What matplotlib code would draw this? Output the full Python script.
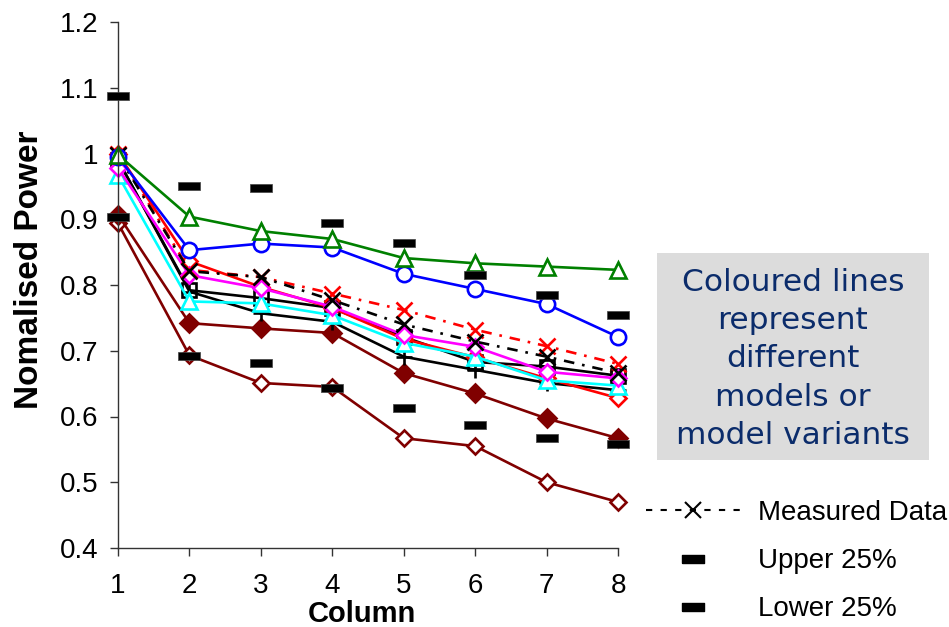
import matplotlib
matplotlib.use("Agg")
import matplotlib.pyplot as plt
from matplotlib.patches import Rectangle
from matplotlib.lines import Line2D

columns = [1, 2, 3, 4, 5, 6, 7, 8]
green_tri = [0.998, 0.904, 0.882, 0.870, 0.841, 0.833, 0.828, 0.823]
blue_circle = [0.995, 0.853, 0.863, 0.857, 0.817, 0.794, 0.771, 0.721]
red_dashed_x = [1.0, 0.823, 0.812, 0.787, 0.762, 0.732, 0.707, 0.680]
measured = [0.997, 0.821, 0.812, 0.777, 0.740, 0.714, 0.691, 0.666]
red_solid = [1.0, 0.836, 0.797, 0.765, 0.718, 0.690, 0.658, 0.628]
magenta = [0.978, 0.815, 0.795, 0.767, 0.724, 0.706, 0.668, 0.658]
black_square = [0.99, 0.792, 0.780, 0.765, 0.721, 0.683, 0.676, 0.662]
black_plus = [0.99, 0.790, 0.757, 0.744, 0.691, 0.671, 0.651, 0.640]
cyan_tri = [0.967, 0.775, 0.772, 0.754, 0.712, 0.691, 0.655, 0.647]
darkred_filled = [0.907, 0.742, 0.734, 0.727, 0.666, 0.635, 0.597, 0.567]
darkred_open = [0.894, 0.693, 0.651, 0.645, 0.567, 0.555, 0.500, 0.470]
upper25 = [1.088, 0.951, 0.947, 0.895, 0.864, 0.815, 0.785, 0.754]
lower25 = [0.904, 0.692, 0.681, 0.644, 0.613, 0.587, 0.568, 0.558]
yticks = [0.4, 0.5, 0.6, 0.7, 0.8, 0.9, 1.0, 1.1, 1.2]
ytick_labels = ["0.4", "0.5", "0.6", "0.7", "0.8", "0.9", "1", "1.1", "1.2"]

fig = plt.figure(figsize=(9.49, 6.27), dpi=100)
ax = fig.add_axes([118/949, 1-548/627, 500/949, 526/627])

lw = 1.9
mew = 1.9
common = dict(clip_on=False, linewidth=lw, markeredgewidth=mew)

ax.plot(columns, darkred_open, color="#800000", marker="D", markersize=8,
        markerfacecolor="white", **common)
ax.plot(columns, darkred_filled, color="#800000", marker="D", markersize=9,
        markerfacecolor="#800000", **common)
ax.plot(columns, black_plus, color="black", marker="+", markersize=12, **common)
ax.plot(columns, black_square, color="black", marker="s", markersize=10,
        fillstyle="none", **common)
ax.plot(columns, red_solid, color="red", marker="D", markersize=8,
        markerfacecolor="white", **common)
ax.plot(columns, cyan_tri, color="cyan", marker="^", markersize=11,
        markerfacecolor="white", **common)
ax.plot(columns, magenta, color="magenta", marker="D", markersize=8,
        markerfacecolor="white", **common)
ax.plot(columns, red_dashed_x, color="red", marker="x", markersize=11,
        dashes=(4, 3, 1, 3), **common)
ax.plot(columns, measured, color="black", marker="x", markersize=11,
        dashes=(4, 3, 1, 3), **common)
ax.plot(columns, blue_circle, color="blue", marker="o", markersize=11,
        markerfacecolor="white", **common)
ax.plot(columns, green_tri, color="green", marker="^", markersize=11,
        markerfacecolor="white", **common)

bar_marker = [(-3, -1), (3, -1), (3, 1), (-3, 1), (-3, -1)]
ax.plot(columns, upper25, linestyle="none", marker=bar_marker, markersize=16,
        color="black", markeredgewidth=0.5, markeredgecolor="#444444",
        clip_on=False, zorder=5)
ax.plot(columns, lower25, linestyle="none", marker=bar_marker, markersize=16,
        color="black", markeredgewidth=0.5, markeredgecolor="#444444",
        clip_on=False, zorder=5)

ax.set_xlim(1, 8)
ax.set_ylim(0.4, 1.2)
ax.set_xticks(columns)
ax.set_xticklabels([str(c) for c in columns], fontsize=20, family="Liberation Sans")
ax.set_yticks(yticks)
ax.set_yticklabels(ytick_labels, fontsize=20, family="Liberation Sans")
ax.tick_params(direction="out", length=6, width=1, color="#333333")
ax.tick_params(axis="x", pad=12)
ax.tick_params(axis="y", pad=8)
for s in ["top", "right"]:
    ax.spines[s].set_visible(False)
for s in ["left", "bottom"]:
    ax.spines[s].set_color("#333333")
    ax.spines[s].set_linewidth(1)

ax.set_xlabel("Column", fontsize=21, fontweight="bold", family="Liberation Sans")
ax.xaxis.set_label_coords((362-118)/500, (548-600)/526)
ax.set_ylabel("Nomalised Power", fontsize=24, fontweight="bold", family="Liberation Sans")
ax.yaxis.set_label_coords((30-118)/500, (548-270)/526)
ax.yaxis.label.set_va("center")

# text box
fig.patches.append(Rectangle((657/949, 1-460/627), 272/949, 207/627,
                             transform=fig.transFigure, facecolor="#DCDCDC",
                             edgecolor="none"))
fig.text((657+136)/949, 1-359/627,
         "Coloured lines\nrepresent\ndifferent\nmodels or\nmodel variants",
         ha="center", va="center", fontsize=22.5, color="#0B2C6B",
         family="DejaVu Sans", linespacing=1.4)

# legend
handles = [
    Line2D([], [], color="black", marker="x", markersize=11, linewidth=1.5,
           markeredgewidth=1.5, dashes=(3, 4)),
    Line2D([], [], color="black", marker=bar_marker, markersize=16, linestyle="none"),
    Line2D([], [], color="black", marker=bar_marker, markersize=16, linestyle="none"),
]
labels = ["Measured Data", "Upper 25%", "Lower 25%"]
fig.legend(handles, labels, loc="upper left", bbox_to_anchor=(646/949, 1-500/627),
           frameon=False, prop={"family": "Liberation Sans", "size": 20},
           handlelength=3.4, handletextpad=0.65, labelspacing=0.8,
           borderaxespad=0, borderpad=0)

fig.savefig("out.png", dpi=100)
